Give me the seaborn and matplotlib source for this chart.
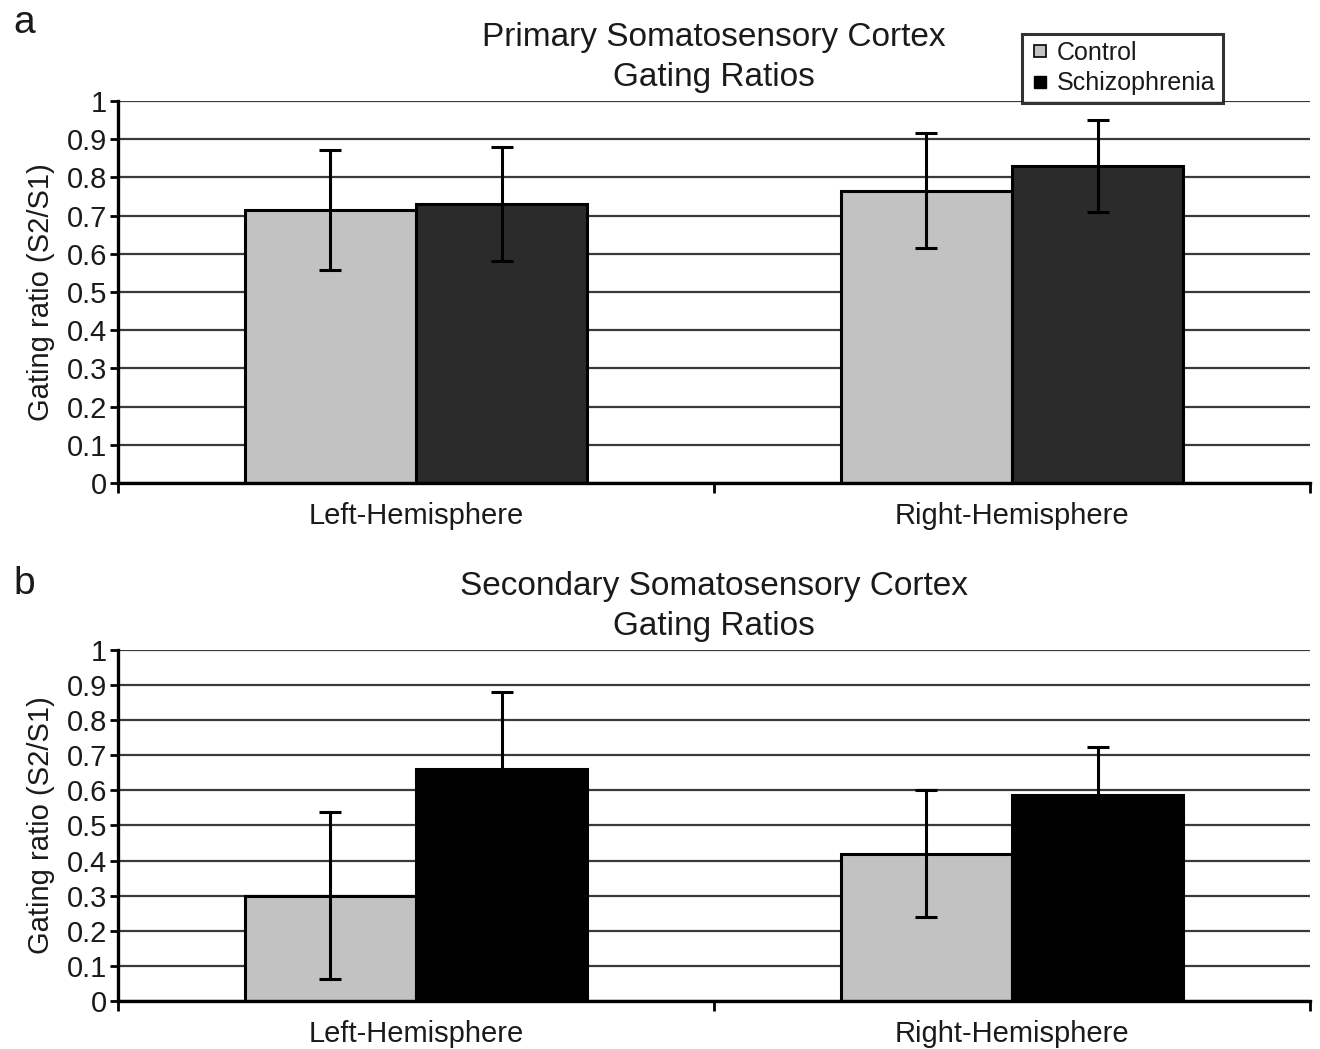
import numpy as np
import pandas as pd
import matplotlib
matplotlib.use("Agg")
import matplotlib.pyplot as plt
from matplotlib.lines import Line2D
import seaborn as sns

# ---- data -------------------------------------------------------------
hemispheres = ["Left-Hemisphere", "Right-Hemisphere"]
groups = ["Control", "Schizophrenia"]

# Primary somatosensory cortex (panel a)
primary_control = [0.715, 0.765]
primary_schizo = [0.730, 0.830]
primary_control_err = [0.157, 0.150]
primary_schizo_err = [0.150, 0.120]

# Secondary somatosensory cortex (panel b)
secondary_control = [0.300, 0.420]
secondary_schizo = [0.660, 0.587]
secondary_control_err = [0.237, 0.182]
secondary_schizo_err = [0.220, 0.137]

ytick_values = [0, 0.1, 0.2, 0.3, 0.4, 0.5, 0.6, 0.7, 0.8, 0.9, 1]
ytick_labels = ["0", "0.1", "0.2", "0.3", "0.4", "0.5", "0.6", "0.7", "0.8", "0.9", "1"]

# ---- style ------------------------------------------------------------
sns.set_theme(style="white")
plt.rcParams["font.family"] = ["Liberation Sans", "DejaVu Sans"]
plt.rcParams["text.color"] = "#1a1a1a"
plt.rcParams["xtick.color"] = "#1a1a1a"
plt.rcParams["ytick.color"] = "#1a1a1a"
plt.rcParams["axes.labelcolor"] = "#1a1a1a"

fig = plt.figure(figsize=(13.2, 10.49), dpi=100)
ax_a = fig.add_axes([0.0894, 0.5396, 0.903, 0.3642])
ax_b = fig.add_axes([0.0894, 0.0458, 0.903, 0.3346])


def make_frame(ctrl, schizo, ctrl_err, schizo_err):
    return pd.DataFrame({
        "hemisphere": hemispheres * 2,
        "group": [groups[0]] * 2 + [groups[1]] * 2,
        "ratio": list(ctrl) + list(schizo),
        "err": list(ctrl_err) + list(schizo_err),
    })


def draw_panel(ax, df, colors, title):
    sns.barplot(data=df, x="hemisphere", y="ratio", hue="group",
                order=hemispheres, hue_order=groups, palette=colors,
                width=0.574, edgecolor="black", linewidth=2.2,
                errorbar=None, legend=False, ax=ax, zorder=3)
    # error bars at each bar centre
    for container, grp in zip(ax.containers, groups):
        sub = df[df["group"] == grp].set_index("hemisphere").loc[hemispheres]
        xs = [b.get_x() + b.get_width() / 2 for b in container]
        ax.errorbar(xs, sub["ratio"].values, yerr=sub["err"].values,
                    fmt="none", ecolor="black", elinewidth=2.2,
                    capsize=8, capthick=2.2, zorder=4)

    ax.set_xlim(-0.5, 1.5)
    ax.set_ylim(0, 1)
    ax.set_yticks(ytick_values)
    ax.set_yticklabels(ytick_labels)
    ax.yaxis.grid(True, color="#3a3a3a", linewidth=1.6, zorder=0)
    ax.set_axisbelow(True)

    # category labels centred, tick marks between categories
    ax.set_xticks([0, 1])
    ax.set_xticklabels(hemispheres)
    ax.set_xticks([-0.5, 0.5, 1.5], minor=True)
    ax.tick_params(axis="x", which="major", length=0, pad=14, labelsize=21)
    ax.tick_params(axis="x", which="minor", length=7, width=2, color="black",
                   direction="out", bottom=True)
    ax.tick_params(axis="y", length=6, width=2, color="black", direction="out",
                   left=True, pad=2, labelsize=21)

    for side in ["top", "right"]:
        ax.spines[side].set_visible(False)
    for side in ["left", "bottom"]:
        ax.spines[side].set_color("black")
        ax.spines[side].set_linewidth(2.4)
        ax.spines[side].set_zorder(5)

    ax.set_xlabel("")
    ax.set_ylabel("Gating ratio (S2/S1)", fontsize=21, labelpad=8)
    ax.set_title(title, fontsize=24, pad=11, linespacing=1.38)


df_a = make_frame(primary_control, primary_schizo,
                  primary_control_err, primary_schizo_err)
df_b = make_frame(secondary_control, secondary_schizo,
                  secondary_control_err, secondary_schizo_err)

draw_panel(ax_a, df_a, ["#c2c2c2", "#2b2b2b"],
           "Primary Somatosensory Cortex\nGating Ratios")
draw_panel(ax_b, df_b, ["#c2c2c2", "#000000"],
           "Secondary Somatosensory Cortex\nGating Ratios")

# panel letters
fig.text(0.010, 0.978, "a", fontsize=28, va="center", ha="left")
fig.text(0.010, 0.443, "b", fontsize=28, va="center", ha="left")

# legend
handles = [
    Line2D([], [], marker="s", linestyle="none", markersize=9,
           markerfacecolor="#c2c2c2", markeredgecolor="black",
           markeredgewidth=1.2),
    Line2D([], [], marker="s", linestyle="none", markersize=9,
           markerfacecolor="black", markeredgecolor="black"),
]
leg = fig.legend(handles, groups, loc="upper left",
                 bbox_to_anchor=(0.774, 0.968), frameon=True, fancybox=False,
                 fontsize=18, handlelength=0.9, handletextpad=0.2,
                 labelspacing=0.25, borderpad=0.3, borderaxespad=0)
leg.get_frame().set_edgecolor("black")
leg.get_frame().set_linewidth(2.2)
leg.set_zorder(10)

fig.savefig("out.png", dpi=100, facecolor="white")
